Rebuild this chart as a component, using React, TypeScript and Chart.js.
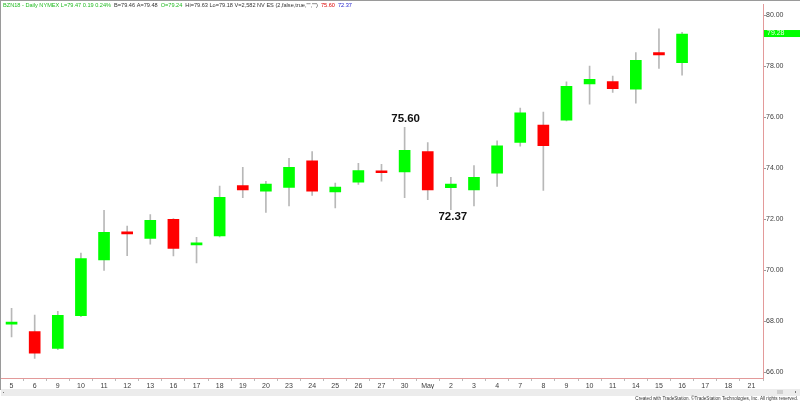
import React, { useEffect, useRef } from 'react';
import { Chart, registerables } from 'chart.js';

Chart.register(...registerables);

const categories = ['5', '6', '9', '10', '11', '12', '13', '16', '17', '18', '19', '20', '23', '24', '25', '26', '27', '30', 'May', '2', '3', '4', '7', '8', '9', '10', '11', '14', '15', '16', '17', '18', '21'];

const opens = [67.88, 67.59, 66.93, 68.21, 70.40, 71.45, 71.24, 71.99, 70.99, 71.34, 73.32, 73.10, 73.24, 74.29, 73.07, 73.45, 73.86, 73.85, 74.65, 73.23, 73.15, 73.80, 75.01, 75.69, 75.88, 77.30, 77.40, 77.10, 78.53, 78.14];
const highs = [68.50, 68.24, 68.38, 70.67, 72.35, 71.73, 72.18, 72.02, 71.29, 73.30, 74.03, 73.48, 74.39, 74.65, 73.41, 74.19, 74.15, 75.60, 75.00, 73.64, 74.10, 75.07, 76.36, 76.20, 77.39, 78.00, 77.61, 78.53, 79.46, 79.33];
const lows = [67.38, 66.54, 66.88, 68.18, 69.99, 70.57, 71.02, 70.56, 70.28, 71.30, 72.84, 72.26, 72.52, 72.93, 72.44, 73.36, 73.49, 72.84, 72.76, 72.37, 72.52, 73.28, 74.86, 73.13, 75.85, 76.51, 76.97, 76.55, 77.91, 77.65];
const closes = [67.92, 66.74, 68.23, 70.45, 71.48, 71.42, 71.95, 70.85, 71.02, 72.86, 73.15, 73.38, 74.03, 73.10, 73.26, 73.90, 73.82, 74.70, 73.15, 73.38, 73.64, 74.88, 76.17, 74.88, 77.21, 77.48, 77.12, 78.23, 78.44, 79.26];

const yTicks = [66, 68, 70, 72, 74, 76, 78, 80];
const yMin = 65.77;
const yMax = 80.43;

const lastPrice = 79.28;
const highMark = { index: 17, value: 75.60 };
const lowMark = { index: 19, value: 72.37 };

const headerParts: [string, string][] = [
  ['BZN18 - Daily NYMEX L=79.47 0.19 0.24% ', '#22bb22'],
  ['B=79.46 A=79.48 ', '#333333'],
  ['O=79.24 ', '#22bb22'],
  ['Hi=79.63 Lo=79.18 V=2,582 NV ES (2,false,true,"","") ', '#333333'],
  ['75.60 ', '#dd0000'],
  ['72.37', '#2222cc'],
];
const footerText = 'Created with TradeStation. \u00A9TradeStation Technologies, Inc. All rights reserved.';

const FONT = '"Liberation Sans", Arial, sans-serif';
const GREEN = '#00ff00';
const RED = '#ff0000';

const decorPlugin = {
  id: 'decor',
  afterDraw(chart: any) {
    const ctx = chart.ctx;
    const xs = chart.scales.x;
    const ys = chart.scales.y;
    const W = chart.width;
    ctx.save();
    ctx.strokeStyle = '#9a9a9a';
    ctx.lineWidth = 1;
    ctx.beginPath();
    ctx.moveTo(0, 0.5);
    ctx.lineTo(W, 0.5);
    ctx.moveTo(0.5, 0);
    ctx.lineTo(0.5, 390);
    ctx.stroke();

    ctx.font = '5.6px ' + FONT;
    ctx.textBaseline = 'middle';
    ctx.textAlign = 'left';
    let hx = 3;
    for (const [t, c] of headerParts) {
      ctx.fillStyle = c;
      ctx.fillText(t, hx, 5);
      hx += ctx.measureText(t).width + 1.5;
    }

    ctx.font = 'bold 11.5px ' + FONT;
    ctx.fillStyle = '#111111';
    ctx.textAlign = 'center';
    ctx.fillText(highMark.value.toFixed(2), xs.getPixelForValue(highMark.index) + 1, ys.getPixelForValue(highMark.value) - 9);
    ctx.fillText(lowMark.value.toFixed(2), xs.getPixelForValue(lowMark.index) + 2, ys.getPixelForValue(lowMark.value) + 7);

    const py = ys.getPixelForValue(lastPrice);
    ctx.fillStyle = GREEN;
    ctx.fillRect(chart.chartArea.right + 1, py - 3.5, W - chart.chartArea.right - 1, 7);
    ctx.fillStyle = '#e8ffe8';
    ctx.font = '7px ' + FONT;
    ctx.textAlign = 'left';
    ctx.fillText(lastPrice.toFixed(2), chart.chartArea.right + 4, py);

    ctx.fillStyle = '#ececec';
    ctx.fillRect(1, 389, W - 1, 7);
    ctx.fillStyle = '#cfcfcf';
    ctx.fillRect(777, 390, 6, 4);
    ctx.fillStyle = '#777777';
    ctx.fillRect(795, 391, 1, 2);
    ctx.fillRect(3, 392, 1, 1);

    ctx.font = '4.6px ' + FONT;
    ctx.fillStyle = '#333333';
    ctx.textAlign = 'right';
    ctx.fillText(footerText, 798, 398.5);
    ctx.restore();
  },
};

export default function App() {
  const ref = useRef<HTMLCanvasElement | null>(null);
  useEffect(() => {
    if (!ref.current) return;
    const bodies = opens.map((o, i) => [o, closes[i]]);
    const wicks = lows.map((l, i) => [l, highs[i]]);
    const colors = opens.map((o, i) => (closes[i] >= o ? GREEN : RED));
    const chart = new Chart(ref.current, {
      type: 'bar',
      data: {
        labels: categories,
        datasets: [
          {
            label: 'body',
            data: bodies as any,
            backgroundColor: colors,
            borderWidth: 0,
            barThickness: 11,
            minBarLength: 2,
            grouped: false,
            order: 0,
          } as any,
          {
            label: 'wick',
            data: wicks as any,
            backgroundColor: '#b8b8b8',
            borderWidth: 0,
            barThickness: 1,
            grouped: false,
            order: 1,
          } as any,
        ],
      },
      options: {
        animation: false,
        responsive: false,
        devicePixelRatio: 1,
        layout: { padding: { left: 0, right: 0, top: 0, bottom: 12 } },
        plugins: { legend: { display: false }, tooltip: { enabled: false } },
        scales: {
          x: {
            type: 'category',
            offset: true,
            grid: { drawOnChartArea: false, tickLength: 3, color: '#bbbbbb' },
            border: { color: '#e39a9a' },
            ticks: { font: { family: FONT, size: 7 }, color: '#404040', padding: 1, maxRotation: 0, autoSkip: false },
            afterFit: (s: any) => { s.height = 12; },
          },
          y: {
            position: 'right',
            min: yMin,
            max: yMax,
            grid: { drawOnChartArea: false, tickLength: 3, color: '#999999' },
            border: { color: '#e39a9a' },
            ticks: { font: { family: FONT, size: 7 }, color: '#404040', padding: 0, callback: (v: any) => Number(v).toFixed(2) },
            afterBuildTicks: (s: any) => { s.ticks = yTicks.map((v) => ({ value: v })); },
            afterFit: (s: any) => { s.width = 37; },
          },
        },
      },
      plugins: [decorPlugin],
    } as any);
    return () => chart.destroy();
  }, []);
  return (
    <div style={{ position: 'absolute', left: 0, top: 0, width: 800, height: 402, background: '#ffffff' }}>
      <canvas ref={ref} width={800} height={402} />
    </div>
  );
}
